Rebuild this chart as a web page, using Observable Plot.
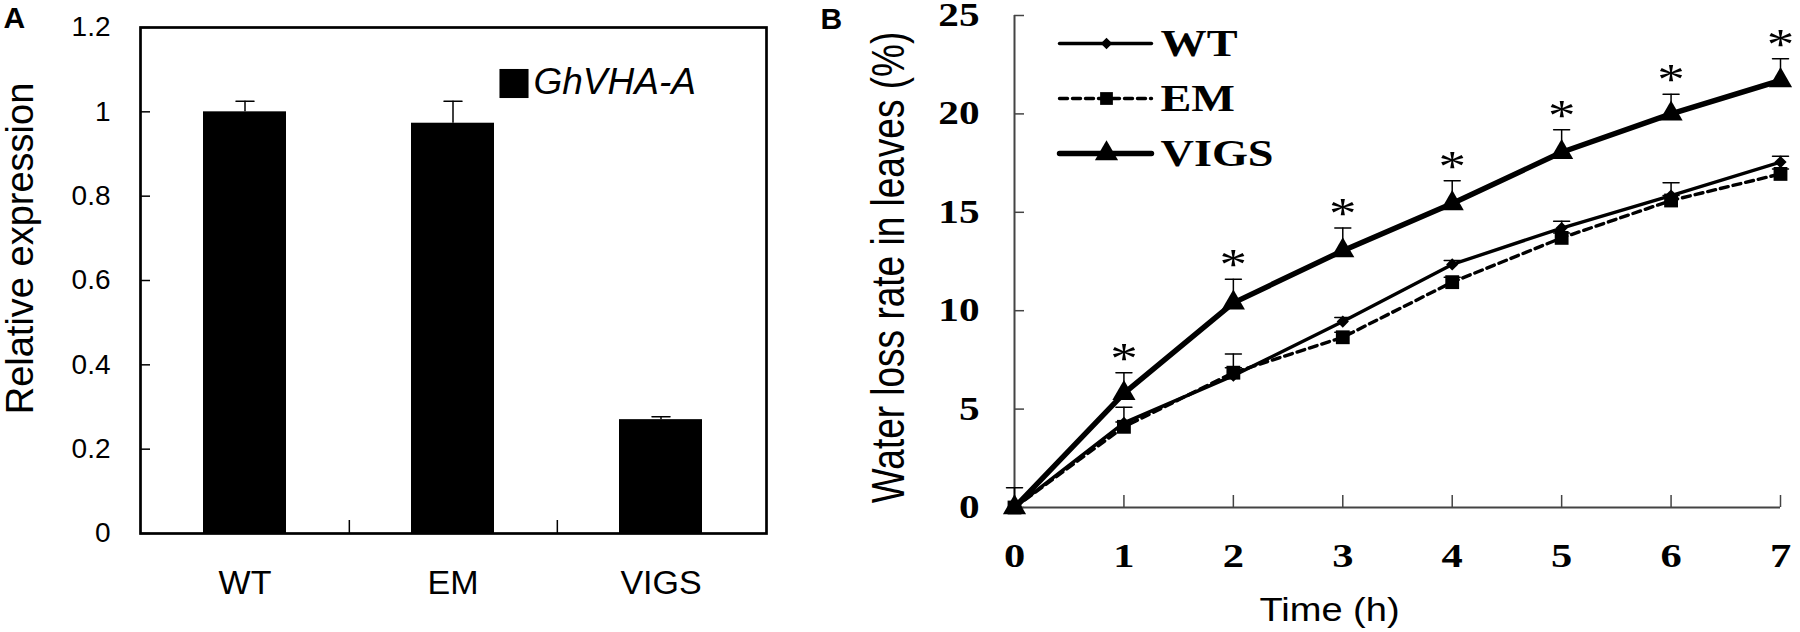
<!DOCTYPE html>
<html><head><meta charset="utf-8">
<script src="https://cdn.jsdelivr.net/npm/d3@7"></script>
<script src="https://cdn.jsdelivr.net/npm/@observablehq/plot@0.6"></script>
<style>
html,body{margin:0;padding:0;background:#fff;}
#wrap{position:relative;width:1800px;height:632px;overflow:hidden;background:#fff;}
#wrap svg{position:absolute;top:0;}
</style></head><body><div id="wrap"></div>
<script>
// ---------- Panel A data ----------
const genotypes = ["WT", "EM", "VIGS"];
const expression = [1.0, 0.973, 0.27];
const expressionErr = [0.025, 0.052, 0.007];
const yTicksA = [0, 0.2, 0.4, 0.6, 0.8, 1, 1.2];
const yTickLabelsA = ["0", "0.2", "0.4", "0.6", "0.8", "1", "1.2"];
const legendA = "GhVHA-A";

// ---------- Panel B data ----------
const hours = [0, 1, 2, 3, 4, 5, 6, 7];
const wtLoss = [0, 4.3, 6.7, 9.45, 12.35, 14.2, 15.85, 17.55];
const wtErr = [1.0, 0.8, 1.1, 0.2, 0.2, 0.35, 0.65, 0.3];
const emLoss = [0, 4.1, 6.85, 8.65, 11.45, 13.7, 15.6, 16.95];
const emErr = [0, 0.25, 0.25, 0.25, 0.25, 0.25, 0.25, 0.25];
const vigsLoss = [0, 5.8, 10.4, 13.05, 15.45, 18.05, 20.0, 21.7];
const vigsErr = [0, 1.05, 1.2, 1.15, 1.15, 1.15, 1.0, 1.1];
const significantHours = [1, 2, 3, 4, 5, 6, 7];
const yTicksB = [0, 5, 10, 15, 20, 25];
const xTicksB = [0, 1, 2, 3, 4, 5, 6, 7];
const seriesNames = ["WT", "EM", "VIGS"];

// ---------- tables ----------
const tableA = genotypes.map((g, i) => ({g, v: expression[i], hi: expression[i] + expressionErr[i]}));
const seriesValues = {WT: [wtLoss, wtErr], EM: [emLoss, emErr], VIGS: [vigsLoss, vigsErr]};
const seriesStyle = {
  WT:   {symbol: "diamond2", r: 5.5, rLeg: 5.2, sw: 3.4, dash: "none"},
  EM:   {symbol: "square",   r: 7.8, rLeg: 7.2, sw: 3.4, dash: "8,5"},
  VIGS: {symbol: "triangle", r: 8.6, rLeg: 8.6, sw: 5.4, dash: "none"}
};
const tableB = seriesNames.flatMap(name => hours.map((t, i) => ({
  series: name, t, v: seriesValues[name][0][i], hi: seriesValues[name][0][i] + seriesValues[name][1][i]
})));

const segment = {draw(context, l) { context.moveTo(0, 0); context.lineTo(0, -l); }};
const sans = "'Liberation Sans', Arial, Helvetica, sans-serif";
const serif = "'Liberation Serif', 'Times New Roman', serif";

// ---------- Panel A ----------
const A = {width: 780, height: 632, ml: 140, mr: 14, mt: 27, mb: 99};
const fwA = A.width - A.ml - A.mr, fhA = A.height - A.mt - A.mb;
const stepA = fwA / genotypes.length;
const plotA = Plot.plot({
  width: A.width, height: A.height,
  marginLeft: A.ml, marginRight: A.mr, marginTop: A.mt, marginBottom: A.mb,
  style: {fontFamily: sans, color: "#000", background: "transparent", overflow: "visible"},
  x: {domain: genotypes, paddingInner: 0.6, paddingOuter: 0.3, label: null},
  y: {domain: [0, 1.2], label: null},
  marks: [
    Plot.barY(tableA, {x: "g", y: "v", fill: "#000"}),
    Plot.ruleX(tableA, {x: "g", y1: "v", y2: "hi", strokeWidth: 1.5}),
    Plot.vector(tableA, {x: "g", y: "hi", length: 18, rotate: 90, shape: segment, strokeWidth: 1.5}),
    Plot.ruleY(yTicksA, {y: d => d, insetRight: fwA - 10, strokeWidth: 1.5}),
    Plot.ruleX(genotypes.slice(0, -1), {x: d => d, dx: stepA / 2, insetTop: fhA - 13, strokeWidth: 1.5}),
    Plot.frame({stroke: "#000", strokeWidth: 2.7}),
    Plot.axisY(yTicksA, {tickSize: 0, tickPadding: 30, fontSize: 28, label: null,
      tickFormat: d => yTickLabelsA[yTicksA.indexOf(d)]}),
    Plot.axisX({tickSize: 0, tickPadding: 36, fontSize: 34, label: null}),
    Plot.dot([legendA], {frameAnchor: "top-left", dx: 373.5, dy: 56, symbol: "square", r: 16.4, fill: "#000"}),
    Plot.text([legendA], {frameAnchor: "top-left", dx: 393, dy: 66, text: d => d, textAnchor: "start",
      lineAnchor: "bottom", fontStyle: "italic", fontSize: 37}),
    Plot.text(["Relative expression"], {frameAnchor: "left", dx: 32 - A.ml, dy: -32, text: d => d,
      rotate: -90, textAnchor: "middle", lineAnchor: "bottom", fontSize: 38}),
    Plot.text(["A"], {frameAnchor: "top-left", dx: 3 - A.ml, dy: 0, text: d => d, textAnchor: "start",
      lineAnchor: "bottom", fontWeight: "bold", fontSize: 30})
  ]
});
plotA.style.left = "0px";

// ---------- Panel B ----------
const B = {left: 780, width: 1020, height: 632, ml: 234, mr: 20, mt: 15, mb: 125};
const fwB = B.width - B.ml - B.mr, fhB = B.height - B.mt - B.mb;
const marksB = [
  Plot.ruleY(yTicksB, {y: d => d, insetRight: fwB - 10, stroke: "#444", strokeWidth: 1.5}),
  Plot.ruleX(xTicksB, {x: d => d, insetTop: fhB - 12, stroke: "#444", strokeWidth: 1.5}),
  Plot.ruleX([0], {y1: 0, y2: 25, stroke: "#444", strokeWidth: 2}),
  Plot.ruleY([0], {x1: 0, x2: 7, stroke: "#444", strokeWidth: 2}),
  Plot.ruleX(tableB, {x: "t", y1: "v", y2: "hi", strokeWidth: 1.5}),
  Plot.vector(tableB.filter(d => d.hi > d.v), {x: "t", y: "hi", length: 16, rotate: 90, shape: segment, strokeWidth: 1.5})
];
for (const name of seriesNames) {
  const st = seriesStyle[name];
  marksB.push(Plot.line(tableB.filter(d => d.series === name), {x: "t", y: "v", strokeWidth: st.sw,
    strokeDasharray: st.dash, strokeLinejoin: "round"}));
}
for (const name of seriesNames) {
  const st = seriesStyle[name];
  marksB.push(Plot.dot(tableB.filter(d => d.series === name), {x: "t", y: "v", symbol: st.symbol, r: st.r, fill: "#000"}));
}
marksB.push(
  Plot.text(tableB.filter(d => d.series === "VIGS" && significantHours.includes(d.t)),
    {x: "t", y: "hi", text: () => "*", lineAnchor: "bottom", fontSize: 44, dy: 0}),
  Plot.axisY(yTicksB, {tickSize: 0, tickPadding: 35, fontSize: 33, fontWeight: "bold", label: null}),
  Plot.axisX(xTicksB, {tickSize: 0, tickPadding: 35, fontSize: 34, fontWeight: "bold", label: null}),
  Plot.text(["Water loss rate in leaves (%)"], {frameAnchor: "left", dx: (903 - B.left) - B.ml, dy: 6,
    text: d => d, rotate: -90, textAnchor: "middle", lineAnchor: "bottom", fontSize: 37, fontFamily: sans}),
  Plot.text(["Time (h)"], {frameAnchor: "bottom", dx: (1329 - B.left) - (B.ml + fwB / 2), dy: 113,
    text: d => d, textAnchor: "middle", lineAnchor: "bottom", fontSize: 34, fontFamily: sans}),
  Plot.text(["B"], {frameAnchor: "top-left", dx: (820 - B.left) - B.ml, dy: 13, text: d => d,
    textAnchor: "start", lineAnchor: "bottom", fontWeight: "bold", fontSize: 30, fontFamily: sans})
);
seriesNames.forEach((name, k) => {
  const st = seriesStyle[name];
  marksB.push(
    Plot.vector([name], {frameAnchor: "top-left", dx: 45, dy: 28 + 55 * k, length: 92, rotate: 90,
      anchor: "start", shape: segment, strokeWidth: st.sw, strokeDasharray: st.dash}),
    Plot.dot([name], {frameAnchor: "top-left", dx: 92, dy: 28 + 55 * k, symbol: st.symbol, r: st.rLeg, fill: "#000"}),
    Plot.text([name], {frameAnchor: "top-left", dx: 146, dy: 40 + 55 * k, text: d => d, textAnchor: "start",
      lineAnchor: "bottom", fontWeight: "bold", fontSize: 37})
  );
});
const plotB = Plot.plot({
  width: B.width, height: B.height,
  marginLeft: B.ml, marginRight: B.mr, marginTop: B.mt, marginBottom: B.mb,
  style: {fontFamily: serif, color: "#000", background: "transparent", overflow: "visible"},
  x: {domain: [0, 7], label: null},
  y: {domain: [0, 25], label: null},
  marks: marksB
});
plotB.style.left = B.left + "px";

// horizontal stretch of panel B lettering (the source figure is widened)
plotB.querySelectorAll("text").forEach(t => {
  const s = t.textContent === "B" ? 1 : t.textContent === "Time (h)" ? 1.12 : 1.25;
  if (s === 1) return;
  const tr = t.getAttribute("transform");
  if (tr && /translate\(/.test(tr)) t.setAttribute("transform", tr.replace(/translate\([^)]*\)/, m => m + ` scale(${s},1)`));
});

document.getElementById("wrap").append(plotA, plotB);
</script>
</body></html>
